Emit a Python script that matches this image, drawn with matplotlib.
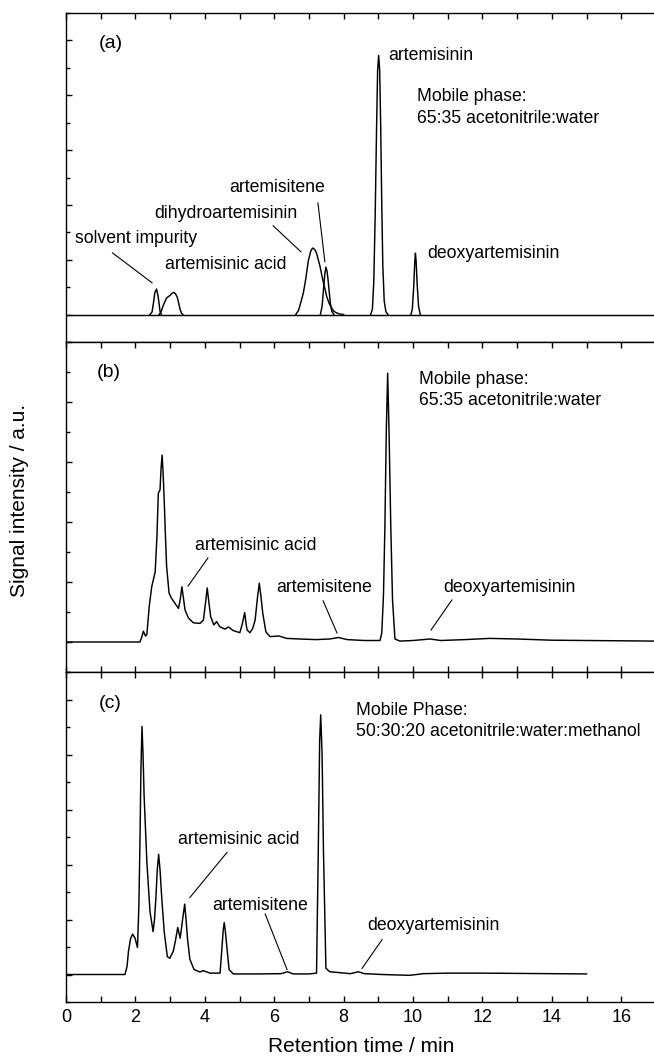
import numpy as np
import matplotlib
matplotlib.use('Agg')
import matplotlib.pyplot as plt
from matplotlib.ticker import MultipleLocator

plt.rcParams['font.family'] = ['Liberation Sans', 'DejaVu Sans']

# ---- (a) standards, each compound its own trace ----
a_solvent_t = [2.42, 2.48, 2.52, 2.56, 2.61, 2.65, 2.68, 2.71, 2.75]
a_solvent_y = [0, 0.10, 0.42, 0.80, 0.93, 0.70, 0.42, 0.12, 0]

a_acid_t = [2.68, 2.74, 2.81, 2.90, 3.00, 3.06, 3.11, 3.16, 3.21, 3.25, 3.29, 3.33, 3.37]
a_acid_y = [0, 0.10, 0.36, 0.61, 0.70, 0.78, 0.81, 0.75, 0.62, 0.40, 0.18, 0.05, 0]

a_dha_t = [6.62, 6.70, 6.78, 6.84, 6.91, 6.98, 7.05, 7.10, 7.13, 7.18, 7.22, 7.27, 7.32,
           7.37, 7.42, 7.47, 7.51, 7.58, 7.65, 7.72, 7.80, 7.90, 8.00]
a_dha_y = [0, 0.15, 0.50, 0.79, 1.30, 1.94, 2.30, 2.42, 2.42, 2.35, 2.24, 2.00, 1.76,
           1.45, 1.15, 0.90, 0.67, 0.42, 0.25, 0.12, 0.06, 0.02, 0]

a_itene_t = [7.33, 7.38, 7.42, 7.46, 7.49, 7.52, 7.55, 7.58, 7.62, 7.66, 7.72]
a_itene_y = [0, 0.30, 0.91, 1.50, 1.73, 1.60, 1.30, 0.90, 0.40, 0.12, 0]

a_art_t = [8.78, 8.83, 8.87, 8.91, 8.95, 8.98, 9.01, 9.04, 9.07, 9.10, 9.13, 9.17, 9.22, 9.28]
a_art_y = [0, 0.20, 1.20, 3.60, 6.80, 8.90, 9.45, 8.90, 6.80, 4.00, 1.80, 0.50, 0.10, 0]

a_deoxy_t = [9.94, 9.98, 10.02, 10.05, 10.07, 10.09, 10.12, 10.16, 10.21]
a_deoxy_y = [0, 0.20, 1.00, 1.90, 2.24, 1.95, 1.10, 0.30, 0]

a_base_t = [0, 17]
a_base_y = [0, 0]

# ---- (b) sample, 65:35 acetonitrile:water ----
b_t = [0, 2.13, 2.18, 2.23, 2.29, 2.33, 2.40, 2.47, 2.57, 2.62, 2.66, 2.71, 2.74, 2.77,
       2.80, 2.83, 2.87, 2.90, 2.97, 3.04, 3.14, 3.24, 3.29, 3.34, 3.38, 3.43, 3.53, 3.67,
       3.86, 3.96, 4.02, 4.07, 4.12, 4.17, 4.26, 4.34, 4.43, 4.58, 4.68, 4.82, 5.01, 5.08,
       5.15, 5.19, 5.22, 5.30, 5.38, 5.45, 5.52, 5.57, 5.62, 5.67, 5.76, 5.88, 6.14, 6.36,
       6.74, 7.20, 7.60, 7.85, 8.10, 8.60, 9.05, 9.10, 9.15, 9.19, 9.23, 9.27, 9.31, 9.36,
       9.41, 9.48, 9.62, 10.0, 10.49, 10.8, 11.5, 12.2, 13.0, 14.0, 15.0, 16.0, 17.0]
b_y = [0, 0, 0.15, 0.36, 0.20, 0.25, 1.20, 1.84, 2.34, 3.50, 4.96, 5.07, 5.80, 6.23,
       5.60, 4.73, 3.40, 2.51, 1.63, 1.46, 1.29, 1.12, 1.40, 1.84, 1.50, 1.07, 0.80, 0.64,
       0.62, 0.73, 1.30, 1.80, 1.30, 0.84, 0.57, 0.68, 0.51, 0.43, 0.50, 0.38, 0.31, 0.60,
       0.98, 0.60, 0.40, 0.31, 0.45, 0.73, 1.50, 1.96, 1.50, 0.96, 0.34, 0.18, 0.20, 0.12,
       0.10, 0.08, 0.10, 0.15, 0.08, 0.05, 0.05, 0.30, 1.60, 3.84, 7.00, 8.96, 7.00, 3.84,
       1.40, 0.10, 0.03, 0.05, 0.10, 0.05, 0.08, 0.12, 0.10, 0.06, 0.05, 0.04, 0.03]

# ---- (c) sample, 50:30:20 acetonitrile:water:methanol ----
c_t = [0, 1.70, 1.76, 1.80, 1.86, 1.92, 1.99, 2.06, 2.10, 2.13, 2.16, 2.19, 2.22, 2.25,
       2.33, 2.42, 2.51, 2.55, 2.59, 2.63, 2.67, 2.71, 2.76, 2.83, 2.92, 2.99, 3.09, 3.15,
       3.22, 3.29, 3.36, 3.42, 3.46, 3.50, 3.57, 3.69, 3.86, 3.95, 4.00, 4.15, 4.44, 4.50,
       4.53, 4.56, 4.59, 4.63, 4.70, 4.82, 5.50, 6.20, 6.38, 6.55, 7.00, 7.22, 7.27, 7.31,
       7.34, 7.38, 7.42, 7.49, 7.60, 8.20, 8.42, 8.60, 9.10, 9.90, 10.3, 11.0, 12.0, 13.0,
       14.0, 15.0]
c_y = [0, 0, 0.30, 0.84, 1.30, 1.47, 1.32, 0.98, 2.50, 4.72, 7.50, 9.02, 8.00, 6.53,
       4.11, 2.29, 1.56, 2.00, 2.77, 3.80, 4.37, 3.80, 2.77, 1.56, 0.65, 0.59, 0.84, 1.20,
       1.71, 1.32, 2.00, 2.56, 2.00, 1.32, 0.55, 0.18, 0.09, 0.14, 0.12, 0.05, 0.05, 1.08,
       1.60, 1.89, 1.60, 1.08, 0.18, 0.02, 0.02, 0.03, 0.10, 0.02, 0.02, 0.05, 4.47, 8.50,
       9.44, 8.00, 4.47, 0.23, 0.10, 0.03, 0.10, 0.03, 0.00, -0.03, 0.03, 0.05, 0.05, 0.04,
       0.03, 0.02]

# labels: (text, x, y, fontsize) and leader lines: ((x0, x1), (y0, y1))
a_labels = [('(a)', 0.95, 9.9, 14), ('artemisinin', 9.28, 9.45, 12.7),
            ('Mobile phase:\n65:35 acetonitrile:water', 10.12, 7.56, 12.7),
            ('artemisitene', 4.70, 4.62, 12.7), ('dihydroartemisinin', 2.54, 3.67, 12.7),
            ('solvent impurity', 0.26, 2.76, 12.7), ('artemisinic acid', 2.85, 1.82, 12.7),
            ('deoxyartemisinin', 10.40, 2.22, 12.7)]
a_leaders = [((1.34, 2.48), (2.25, 1.16)), ((5.97, 6.77), (3.24, 2.29)),
             ((7.26, 7.46), (4.07, 1.93))]

b_labels = [('(b)', 0.89, 8.97, 14),
            ('Mobile phase:\n65:35 acetonitrile:water', 10.17, 8.4, 12.7),
            ('artemisinic acid', 3.72, 3.2, 12.7), ('artemisitene', 6.05, 1.8, 12.7),
            ('deoxyartemisinin', 10.86, 1.8, 12.7)]
b_leaders = [((4.09, 3.52), (2.8, 1.87)), ((7.41, 7.81), (1.37, 0.3)),
             ((11.12, 10.52), (1.4, 0.4))]

c_labels = [('(c)', 0.95, 9.85, 14),
            ('Mobile Phase:\n50:30:20 acetonitrile:water:methanol', 8.36, 9.22, 12.7),
            ('artemisinic acid', 3.23, 4.9, 12.7), ('artemisitene', 4.21, 2.5, 12.7),
            ('deoxyartemisinin', 8.69, 1.78, 12.7)]
c_leaders = [((4.64, 3.57), (4.44, 2.8)), ((5.74, 6.37), (2.2, 0.18)),
             ((9.11, 8.53), (1.27, 0.22))]


def style_axis(ax, ylim, top=True, bottom=True, labels=False):
    ax.set_xlim(0, 17)
    ax.set_ylim(ylim)
    ax.xaxis.set_major_locator(MultipleLocator(2))
    ax.xaxis.set_minor_locator(MultipleLocator(1))
    ax.yaxis.set_major_locator(MultipleLocator(2))
    ax.yaxis.set_minor_locator(MultipleLocator(1))
    ax.tick_params(which='both', direction='in', top=top, bottom=bottom, left=True,
                   right=False, labelbottom=labels, labelleft=False, width=1.0)
    ax.tick_params(which='major', length=4.5)
    ax.tick_params(axis='y', which='minor', length=3)
    ax.tick_params(axis='x', which='minor', length=4.5)
    ax.tick_params(axis='x', labelsize=13, pad=5)
    for s in ax.spines.values():
        s.set_linewidth(1.0)


def add_labels(ax, labels, leaders):
    for txt, x, y, fs in labels:
        ax.text(x, y, txt, fontsize=fs, ha='left', va='center', linespacing=1.35)
    for xs, ys in leaders:
        ax.plot(xs, ys, color='black', lw=0.8)


W, H = 654, 1057
fig = plt.figure(figsize=(W / 100, H / 100), dpi=100)
left = 66 / W
width = 17 * 34.7 / W
ax_a = fig.add_axes([left, 1 - 342 / H, width, 329 / H])
ax_b = fig.add_axes([left, 1 - 672 / H, width, 330 / H])
ax_c = fig.add_axes([left, 1 - 1002 / H, width, 330 / H])

lw = 1.05
ax_a.plot(a_base_t, a_base_y, color='black', lw=lw)
for t, y in [(a_solvent_t, a_solvent_y), (a_acid_t, a_acid_y), (a_dha_t, a_dha_y),
             (a_itene_t, a_itene_y), (a_art_t, a_art_y), (a_deoxy_t, a_deoxy_y)]:
    ax_a.plot(t, y, color='black', lw=lw)
style_axis(ax_a, (-1, 11), top=True, bottom=False)
add_labels(ax_a, a_labels, a_leaders)

ax_b.plot(b_t, b_y, color='black', lw=lw)
style_axis(ax_b, (-1, 10))
add_labels(ax_b, b_labels, b_leaders)

ax_c.plot(c_t, c_y, color='black', lw=lw)
style_axis(ax_c, (-1, 11), labels=True)
add_labels(ax_c, c_labels, c_leaders)

fig.text((66 + 656) / 2 / W, 1 - 1047 / H, 'Retention time / min', fontsize=15,
         ha='center', va='center')
fig.text(20 / W, 1 - 500 / H, 'Signal intensity / a.u.', fontsize=15,
         ha='center', va='center', rotation=90)

fig.savefig('out.png', dpi=100)
